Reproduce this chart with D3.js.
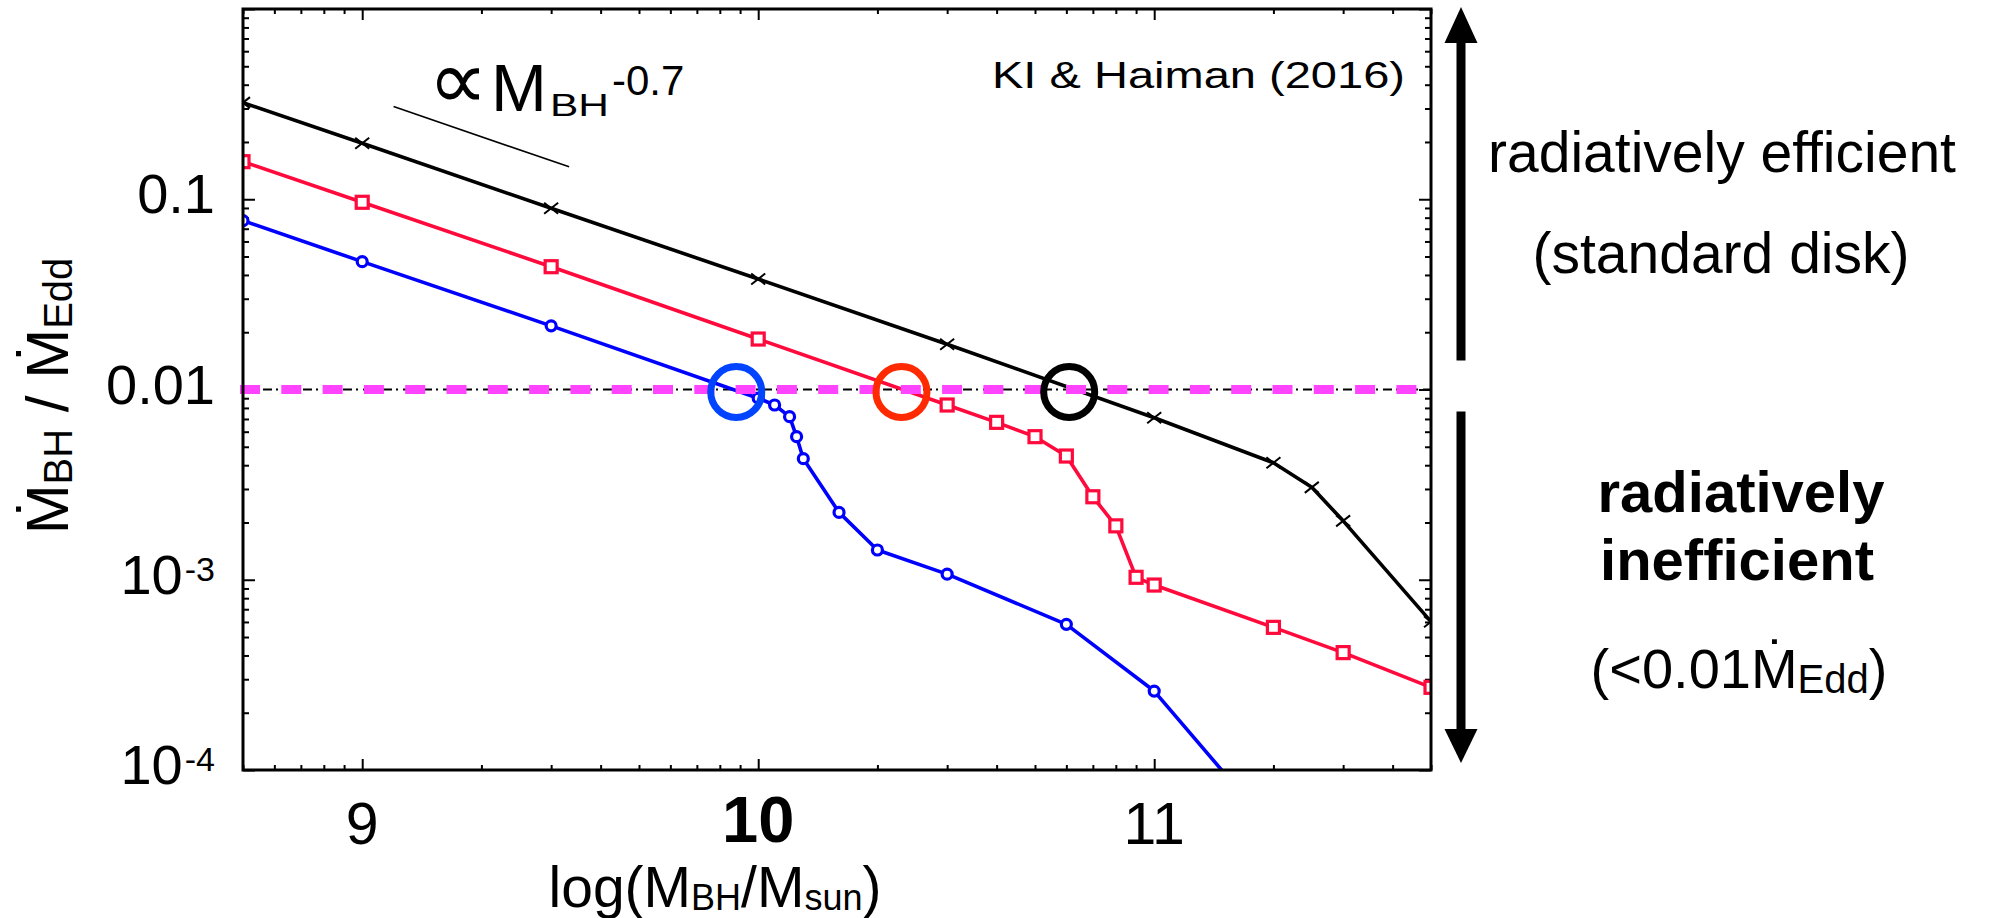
<!DOCTYPE html>
<html>
<head>
<meta charset="utf-8">
<script src="https://cdn.jsdelivr.net/npm/d3@7"></script>
<style>
  html, body { margin: 0; padding: 0; background: #fff; }
  svg { display: block; font-family: "Liberation Sans", Arial, Helvetica, sans-serif; }
</style>
</head>
<body>
<svg id="chart" width="1992" height="918"></svg>
<script>
// BH mass (M_sun) and accretion rate (Mdot / Mdot_Edd)
const massBlack = [5e8, 1e9, 3e9, 1e10, 3e10, 1e11, 2e11, 2.5e11, 3e11, 5e11];
const rateBlack = [0.322, 0.197, 0.0896, 0.0381, 0.0173, 0.0071, 0.00412, 0.00306, 0.00204, 0.000602];

const massRed = [5e8, 1e9, 3e9, 1e10, 3e10, 4e10, 5e10, 6e10, 7e10, 8e10, 9e10, 1e11, 2e11, 3e11, 5e11];
const rateRed = [0.1576, 0.0964, 0.0442, 0.01842, 0.00829, 0.00672, 0.00565, 0.00447, 0.00273, 0.00192, 0.00103, 0.000938, 0.000562, 0.000414, 0.000272];

const massBlue = [5e8, 1e9, 3e9, 1e10, 1.1e10, 1.2e10, 1.25e10, 1.3e10, 1.6e10, 2e10, 3e10, 6e10, 1e11, 2e11];
const rateBlue = [0.0772, 0.047, 0.0216, 0.009, 0.00829, 0.0072, 0.00565, 0.00433, 0.00226, 0.001433, 0.00107, 0.000583, 0.00026, 0.000048];

// transition points (big open circles) and the 0.01 Eddington threshold
const transitionMass = [8.8e9, 2.3e10, 6.1e10];
const transitionRate = [0.0097, 0.0097, 0.0097];
const thresholdRate = 0.01;

// guide segment for the M^-0.7 slope
const slopeMass = [1.2e9, 3.33e9];
const slopeRate = [0.307, 0.148];

// tick labels
const xTickValues = [1e9, 1e10, 1e11];
const xTickLabels = ['9', '10', '11'];
const yTickValues = [1e-1, 1e-2, 1e-3, 1e-4];
const yTickBase = ['0.1', '0.01', '10', '10'];
const yTickExp = ['', '', '-3', '-4'];

const svg = d3.select('#chart');
const plotLeft = 243, plotRight = 1431, plotTop = 9, plotBottom = 770;

const x = d3.scaleLog().domain([5e8, 5e11]).range([plotLeft, plotRight]);
const y = d3.scaleLog().domain([1e-4, 1]).range([plotBottom, plotTop]);

const isDecade = d => Math.abs(Math.log10(d) - Math.round(Math.log10(d))) < 1e-9;
const xMinor = x.ticks().filter(d => !isDecade(d));
const yMinor = y.ticks().filter(d => !isDecade(d));
const yMajor = y.ticks().filter(isDecade);

svg.append('defs').append('clipPath').attr('id', 'plot-clip')
    .append('rect')
    .attr('x', plotLeft).attr('y', plotTop)
    .attr('width', plotRight - plotLeft).attr('height', plotBottom - plotTop);

// Ticks on all four sides, pointing inward
function tickAxis(axisFn, scale, values, size, transform) {
    const g = svg.append('g')
        .attr('transform', transform)
        .call(axisFn(scale).tickValues(values).tickSize(-size).tickFormat(''));
    g.select('.domain').remove();
    g.selectAll('line').attr('stroke', '#000').attr('stroke-width', 2);
}
tickAxis(d3.axisBottom, x, xTickValues, 11, `translate(0,${plotBottom})`);
tickAxis(d3.axisBottom, x, xMinor, 5, `translate(0,${plotBottom})`);
tickAxis(d3.axisTop, x, xTickValues, 11, `translate(0,${plotTop})`);
tickAxis(d3.axisTop, x, xMinor, 5, `translate(0,${plotTop})`);
tickAxis(d3.axisLeft, y, yMajor, 12, `translate(${plotLeft},0)`);
tickAxis(d3.axisLeft, y, yMinor, 6, `translate(${plotLeft},0)`);
tickAxis(d3.axisRight, y, yMajor, 12, `translate(${plotRight},0)`);
tickAxis(d3.axisRight, y, yMinor, 6, `translate(${plotRight},0)`);

// Tick labels
svg.append('g').selectAll('text')
    .data(xTickValues)
    .join('text')
    .attr('x', d => x(d))
    .attr('y', (d, i) => i === 1 ? 842 : 844)
    .attr('text-anchor', 'middle')
    .attr('font-size', (d, i) => i === 1 ? 65 : 59)
    .attr('font-weight', (d, i) => i === 1 ? 'bold' : 'normal')
    .text((d, i) => xTickLabels[i]);

const yLabels = svg.append('g').selectAll('text')
    .data(yTickValues)
    .join('text')
    .attr('x', 215)
    .attr('y', d => y(d) + 14)
    .attr('text-anchor', 'end')
    .attr('font-size', 56);
yLabels.append('tspan').text((d, i) => yTickBase[i]);
yLabels.append('tspan')
    .attr('font-size', 34)
    .attr('dy', -13)
    .attr('dx', 2)
    .text((d, i) => yTickExp[i]);

// Threshold line: thin dash-dot black under thick magenta dashes
svg.append('line')
    .attr('x1', plotLeft).attr('x2', plotRight)
    .attr('y1', y(thresholdRate)).attr('y2', y(thresholdRate))
    .attr('stroke', '#000').attr('stroke-width', 1.8)
    .attr('stroke-dasharray', '9,4,2,5');

// Series
const series = [
    { mass: massBlue, rate: rateBlue, color: '#0000ff', marker: 'circle' },
    { mass: massRed, rate: rateRed, color: '#ff0a3c', marker: 'square' },
    { mass: massBlack, rate: rateBlack, color: '#000000', marker: 'cross' }
];

const plot = svg.append('g').attr('clip-path', 'url(#plot-clip)');
const line = d3.line().x(d => x(d[0])).y(d => y(d[1]));

series.forEach(s => {
    const pts = s.mass.map((m, i) => [m, s.rate[i]]);
    plot.append('path')
        .datum(pts)
        .attr('d', line)
        .attr('fill', 'none')
        .attr('stroke', s.color)
        .attr('stroke-width', 3.6)
        .attr('stroke-linejoin', 'round');

    const mk = plot.append('g').selectAll('g')
        .data(pts)
        .join('g')
        .attr('transform', d => `translate(${x(d[0])},${y(d[1])})`);
    if (s.marker === 'circle') {
        mk.append('circle').attr('r', 5)
            .attr('fill', '#fff').attr('stroke', s.color).attr('stroke-width', 3.2);
    } else if (s.marker === 'square') {
        mk.append('rect').attr('x', -6).attr('y', -6).attr('width', 12).attr('height', 12)
            .attr('fill', '#fff').attr('stroke', s.color).attr('stroke-width', 3.2);
    } else {
        mk.append('path').attr('d', 'M-7,-5.5L7,5.5M-7,5.5L7,-5.5')
            .attr('stroke', s.color).attr('stroke-width', 2);
    }
});

// magenta threshold dashes over the curves
svg.append('line')
    .attr('x1', plotLeft - 3).attr('x2', plotRight - 13)
    .attr('y1', y(thresholdRate)).attr('y2', y(thresholdRate))
    .attr('stroke', '#ff44ff').attr('stroke-width', 9)
    .attr('stroke-dasharray', '20,21.3');

// Transition circles
const bigColors = ['#0044ff', '#ff2a00', '#000000'];
svg.append('g').selectAll('circle')
    .data(transitionMass)
    .join('circle')
    .attr('cx', d => x(d))
    .attr('cy', (d, i) => y(transitionRate[i]))
    .attr('r', 25.5)
    .attr('fill', 'none')
    .attr('stroke', (d, i) => bigColors[i])
    .attr('stroke-width', 7);

// Slope guide
svg.append('line')
    .attr('x1', x(slopeMass[0])).attr('y1', y(slopeRate[0]))
    .attr('x2', x(slopeMass[1])).attr('y2', y(slopeRate[1]))
    .attr('stroke', '#000').attr('stroke-width', 1.6);

svg.append('text').attr('x', 428).attr('y', 109).attr('font-size', 84)
    .attr('font-family', '"DejaVu Sans", sans-serif').text('\u221D');
svg.append('text').attr('x', 491).attr('y', 111).attr('font-size', 67).text('M');
svg.append('text').attr('x', 550).attr('y', 116).attr('font-size', 31)
    .attr('textLength', 59).attr('lengthAdjust', 'spacingAndGlyphs').text('BH');
svg.append('text').attr('x', 612).attr('y', 95).attr('font-size', 42).text('-0.7');

svg.append('text').attr('x', 992).attr('y', 88).attr('font-size', 36)
    .attr('textLength', 413).attr('lengthAdjust', 'spacingAndGlyphs')
    .text('KI & Haiman (2016)');

// Frame
svg.append('rect')
    .attr('x', plotLeft).attr('y', plotTop)
    .attr('width', plotRight - plotLeft).attr('height', plotBottom - plotTop)
    .attr('fill', 'none').attr('stroke', '#000').attr('stroke-width', 3);

// Axis titles
const xTitle = svg.append('text')
    .attr('x', 715).attr('y', 907)
    .attr('text-anchor', 'middle')
    .attr('font-size', 57);
xTitle.append('tspan').text('log(M');
xTitle.append('tspan').attr('font-size', 36).attr('dy', 3).text('BH');
xTitle.append('tspan').attr('dy', -3).text('/M');
xTitle.append('tspan').attr('font-size', 36).attr('dy', 3).text('sun');
xTitle.append('tspan').attr('dy', -3).text(')');

const yTitle = svg.append('text')
    .attr('transform', 'translate(68,396) rotate(-90)')
    .attr('text-anchor', 'middle')
    .attr('font-size', 60);
yTitle.append('tspan').text('\u1E40');
yTitle.append('tspan').attr('font-size', 40).attr('dy', 4).text('BH');
yTitle.append('tspan').attr('dy', -4).text(' / \u1E40');
yTitle.append('tspan').attr('font-size', 40).attr('dy', 4).text('Edd');

// Regime arrows on the right
const ax = 1461;
const yThr = y(thresholdRate);
svg.append('rect').attr('x', ax - 4.5).attr('y', plotTop + 33)
    .attr('width', 9).attr('height', yThr - 29 - (plotTop + 33)).attr('fill', '#000');
svg.append('path').attr('d', `M${ax},${plotTop - 2}L${ax - 16.5},${plotTop + 34}L${ax + 16.5},${plotTop + 34}Z`)
    .attr('fill', '#000');
svg.append('rect').attr('x', ax - 4.5).attr('y', yThr + 22)
    .attr('width', 9).attr('height', plotBottom - 40 - (yThr + 22)).attr('fill', '#000');
svg.append('path').attr('d', `M${ax - 16.5},${plotBottom - 41}L${ax + 16.5},${plotBottom - 41}L${ax},${plotBottom - 7}Z`)
    .attr('fill', '#000');

// Regime labels
svg.append('text').attr('x', 1722).attr('y', 172).attr('text-anchor', 'middle')
    .attr('font-size', 57).text('radiatively efficient');
svg.append('text').attr('x', 1721).attr('y', 273).attr('text-anchor', 'middle')
    .attr('font-size', 57).text('(standard disk)');
svg.append('text').attr('x', 1741).attr('y', 512).attr('text-anchor', 'middle')
    .attr('font-size', 58).attr('font-weight', 'bold').text('radiatively');
svg.append('text').attr('x', 1737).attr('y', 580).attr('text-anchor', 'middle')
    .attr('font-size', 58).attr('font-weight', 'bold').text('inefficient');
const low = svg.append('text').attr('x', 1739).attr('y', 688).attr('text-anchor', 'middle')
    .attr('font-size', 56);
low.append('tspan').text('(<0.01\u1E40');
low.append('tspan').attr('font-size', 40).attr('dy', 5).text('Edd');
low.append('tspan').attr('dy', -5).text(')');
</script>
</body>
</html>
